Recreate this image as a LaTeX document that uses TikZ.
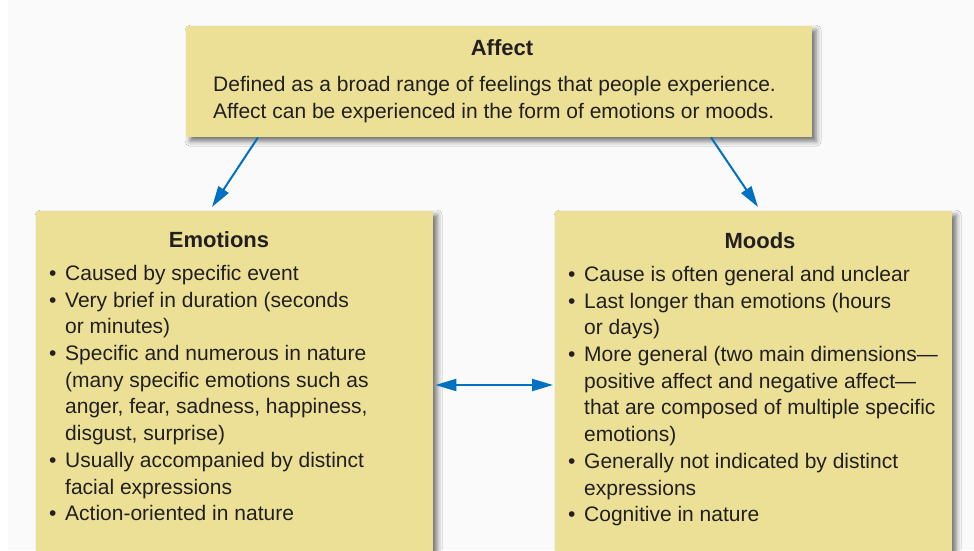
\documentclass[tikz,border=0pt]{standalone}
\usepackage{fontspec}
\setmainfont{Liberation Sans}
\usetikzlibrary{arrows.meta,shadows.blur,calc}
\definecolor{pagebg}{RGB}{250,250,250}
\definecolor{boxfill}{RGB}{235,224,150}
\definecolor{arrowblue}{RGB}{0,112,192}
\definecolor{inktext}{RGB}{35,31,32}
\newcommand\bl{\makebox[16pt][l]{\textbullet}}
\newcommand\ind{\hspace*{16pt}}
\tikzset{
  card/.style={fill=boxfill, draw=none, anchor=north west, inner sep=0pt,
    blur shadow={shadow xshift=4pt, shadow yshift=-4pt, shadow blur radius=5pt, shadow opacity=55}},
  heading/.style={font=\fontsize{22}{26}\selectfont\bfseries, text=inktext, inner sep=0pt},
  body/.style={font=\fontsize{21}{26.7}\selectfont, text=inktext, align=left, inner sep=0pt, anchor=north west},
  flow/.style={draw=arrowblue, line width=2pt, -{Triangle[length=21pt,width=12pt]}},
  twoway/.style={draw=arrowblue, line width=2pt, {Triangle[length=21pt,width=12pt]}-{Triangle[length=21pt,width=12pt]}}
}
\begin{document}
\begin{tikzpicture}[x=1pt,y=-1pt]
  \useasboundingbox (0,0) rectangle (974,550);
  \clip (0,0) rectangle (974,550);
  \fill[pagebg] (0,0) rectangle (974,550);
  \fill[white] (0,0) rectangle (8,550);

  % the three cards
  \node[card, minimum width=626pt, minimum height=111pt] (affect) at (186,26) {};
  \node[card, minimum width=397pt, minimum height=370pt] (emotions) at (36,211) {};
  \node[card, minimum width=397pt, minimum height=370pt] (moods) at (555,211) {};

  % card texts
  \node[heading] (affectT) at (502,48) {Affect};
  \node[body] (affectB) at (213,76) {Defined as a broad range of feelings that people experience.\\
    Affect can be experienced in the form of emotions or moods.};

  \node[heading] (emotionsT) at (219,240) {Emotions};
  \node[body] (emotionsB) at (49,265) {\bl Caused by specific event\\
    \bl Very brief in duration (seconds\\
    \ind or minutes)\\
    \bl Specific and numerous in nature\\
    \ind (many specific emotions such as\\
    \ind anger, fear, sadness, happiness,\\
    \ind disgust, surprise)\\
    \bl Usually accompanied by distinct\\
    \ind facial expressions\\
    \bl Action-oriented in nature};

  \node[heading] (moodsT) at (760,241) {Moods};
  \node[body] (moodsB) at (568,266) {\bl Cause is often general and unclear\\
    \bl Last longer than emotions (hours\\
    \ind or days)\\
    \bl More general (two main dimensions---\\
    \ind positive affect and negative affect---\\
    \ind that are composed of multiple specific\\
    \ind emotions)\\
    \bl Generally not indicated by distinct\\
    \ind expressions\\
    \bl Cognitive in nature};

  % connectors
  \draw[flow] ($(affect.south west)+(72,0)$) -- ($(emotions.north west)+(176,-4)$);
  \draw[flow] ($(affect.south west)+(525,0)$) -- ($(moods.north west)+(203,-4)$);
  \draw[twoway] ($(emotions.north east)+(2,174)$) -- ($(moods.north west)+(-2,174)$);
\end{tikzpicture}
\end{document}
